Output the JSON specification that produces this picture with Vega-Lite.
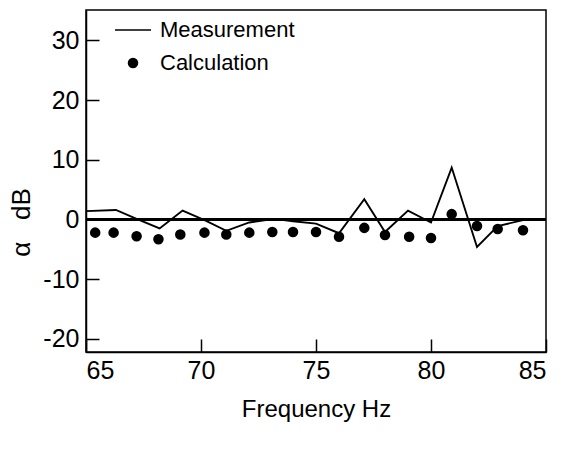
{
  "$schema": "https://vega.github.io/schema/vega-lite/v6.json",
  "width": 460,
  "height": 342,
  "autosize": {"type": "none"},
  "padding": {"left": 86, "top": 10, "right": 15, "bottom": 99},
  "background": "white",
  "config": {
    "font": "Liberation Sans",
    "view": {"stroke": "black", "strokeWidth": 1.5},
    "axis": {
      "grid": false,
      "domainColor": "black",
      "domainWidth": 1.5,
      "tickColor": "black",
      "tickWidth": 1.5,
      "labelColor": "black",
      "labelFont": "Liberation Sans",
      "labelFontSize": 25,
      "titleFont": "Liberation Sans",
      "titleFontSize": 24,
      "titleFontWeight": "normal",
      "titleColor": "black"
    }
  },
  "data": {
    "values": [
      {"f": 65.0, "v": 1.4, "series": "Measurement"},
      {"f": 66.3, "v": 1.6, "series": "Measurement"},
      {"f": 67.2, "v": 0.1, "series": "Measurement"},
      {"f": 68.2, "v": -1.5, "series": "Measurement"},
      {"f": 69.2, "v": 1.5, "series": "Measurement"},
      {"f": 70.2, "v": -0.2, "series": "Measurement"},
      {"f": 71.1, "v": -1.9, "series": "Measurement"},
      {"f": 72.1, "v": -0.5, "series": "Measurement"},
      {"f": 73.2, "v": 0.1, "series": "Measurement"},
      {"f": 74.0, "v": -0.3, "series": "Measurement"},
      {"f": 75.0, "v": -0.7, "series": "Measurement"},
      {"f": 76.0, "v": -2.3, "series": "Measurement"},
      {"f": 77.1, "v": 3.4, "series": "Measurement"},
      {"f": 78.0, "v": -2.1, "series": "Measurement"},
      {"f": 79.0, "v": 1.5, "series": "Measurement"},
      {"f": 80.0, "v": -0.5, "series": "Measurement"},
      {"f": 80.9, "v": 8.7, "series": "Measurement"},
      {"f": 82.0, "v": -4.6, "series": "Measurement"},
      {"f": 82.9, "v": -1.1, "series": "Measurement"},
      {"f": 84.0, "v": -0.1, "series": "Measurement"},
      {"f": 65.4, "v": -2.2, "series": "Calculation"},
      {"f": 66.2, "v": -2.2, "series": "Calculation"},
      {"f": 67.2, "v": -2.8, "series": "Calculation"},
      {"f": 68.15, "v": -3.3, "series": "Calculation"},
      {"f": 69.1, "v": -2.5, "series": "Calculation"},
      {"f": 70.15, "v": -2.2, "series": "Calculation"},
      {"f": 71.1, "v": -2.5, "series": "Calculation"},
      {"f": 72.1, "v": -2.2, "series": "Calculation"},
      {"f": 73.1, "v": -2.1, "series": "Calculation"},
      {"f": 74.0, "v": -2.1, "series": "Calculation"},
      {"f": 75.0, "v": -2.1, "series": "Calculation"},
      {"f": 76.0, "v": -2.9, "series": "Calculation"},
      {"f": 77.1, "v": -1.4, "series": "Calculation"},
      {"f": 78.0, "v": -2.6, "series": "Calculation"},
      {"f": 79.05, "v": -2.9, "series": "Calculation"},
      {"f": 80.0, "v": -3.1, "series": "Calculation"},
      {"f": 80.9, "v": 0.9, "series": "Calculation"},
      {"f": 82.0, "v": -1.1, "series": "Calculation"},
      {"f": 82.9, "v": -1.6, "series": "Calculation"},
      {"f": 84.0, "v": -1.8, "series": "Calculation"}
    ]
  },
  "layer": [
    {
      "mark": {"type": "rule", "color": "black", "strokeWidth": 1.5},
      "encoding": {"y": {"datum": 0, "axis": null}}
    },
    {
      "transform": [{"filter": "datum.series === 'Measurement'"}],
      "mark": {"type": "line", "color": "black", "strokeWidth": 1.9},
      "encoding": {
        "x": {
          "field": "f",
          "type": "quantitative",
          "scale": {"domain": [65, 85], "nice": false, "zero": false},
          "axis": {"orient": "bottom", "values": [65, 70, 75, 80, 85], "title": null, "labels": false, "domain": false, "ticks": true, "tickSize": 13, "offset": -13}
        },
        "y": {
          "field": "v",
          "type": "quantitative",
          "scale": {"domain": [-22.2, 35.1], "nice": false, "zero": false},
          "axis": {"orient": "left", "values": [-20, -10, 0, 10, 20, 30], "title": null, "labels": false, "domain": false, "ticks": true, "tickSize": 13, "offset": -13}
        },
        "order": {"field": "f"}
      }
    },
    {
      "transform": [{"filter": "datum.series === 'Calculation'"}],
      "mark": {"type": "point", "filled": true, "fill": "black", "stroke": "black", "strokeWidth": 1.6, "opacity": 1},
      "encoding": {
        "x": {
          "field": "f",
          "type": "quantitative",
          "axis": {"orient": "bottom", "values": [65, 70, 75, 80, 85], "title": "Frequency Hz", "ticks": false, "labelPadding": 6, "titlePadding": 14}
        },
        "y": {
          "field": "v",
          "type": "quantitative",
          "axis": {"orient": "left", "values": [-20, -10, 0, 10, 20, 30], "labelExpr": "datum.value < 0 ? '-' + abs(datum.value) : '' + datum.value", "title": "α\u00a0\u00a0\u00a0dB", "ticks": false, "labelPadding": 7, "titleFontSize": 26, "titleAnchor": null, "titleY": 212, "titleX": -52}
        },
        "shape": {
          "field": "series",
          "type": "nominal",
          "scale": {"domain": ["Measurement", "Calculation"], "range": ["M-1,0L1,0", "circle"]},
          "legend": {
            "title": null,
            "orient": "none",
            "legendX": 28,
            "legendY": 1,
            "padding": 0,
            "labelFont": "Liberation Sans",
            "labelFontSize": 22,
            "labelColor": "black",
            "labelOffset": 8,
            "rowPadding": 11,
            "symbolOpacity": 1,
            "symbolStrokeColor": "black",
            "symbolStrokeWidth": 1.6,
            "symbolFillColor": "black"
          }
        },
        "size": {
          "field": "series",
          "type": "nominal",
          "scale": {"domain": ["Measurement", "Calculation"], "range": [1300, 80]}
        }
      }
    }
  ],
  "resolve": {"axis": {"x": "independent", "y": "independent"}}
}
